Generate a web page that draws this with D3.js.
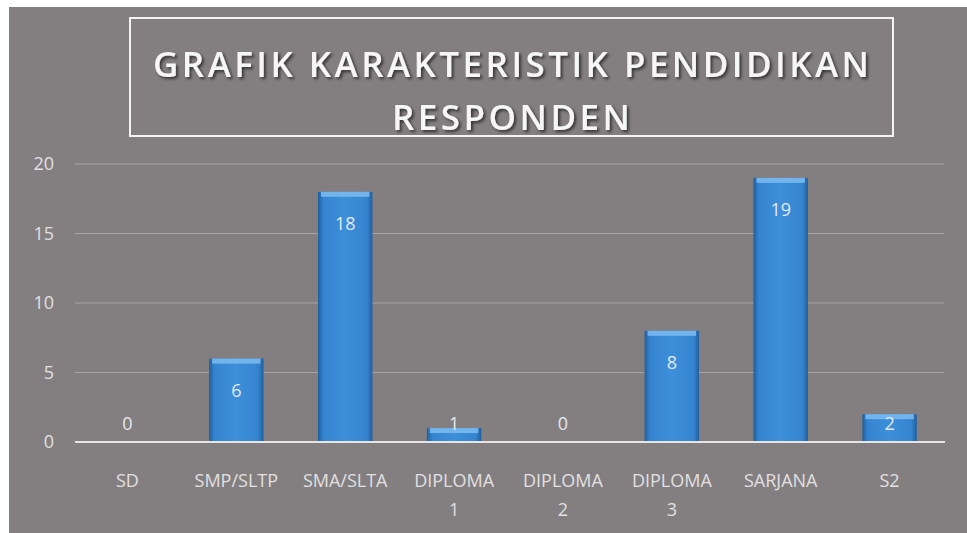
<!DOCTYPE html>
<html>
<head>
<meta charset="utf-8">
<script src="https://cdn.jsdelivr.net/npm/d3@7/dist/d3.min.js"></script>
<style>
  html, body { margin: 0; padding: 0; background: #ffffff; }
  svg { display: block; }
</style>
</head>
<body>
<svg id="chart" width="967" height="533"></svg>
<script>
const categories = [["SD"], ["SMP/SLTP"], ["SMA/SLTA"], ["DIPLOMA", "1"], ["DIPLOMA", "2"], ["DIPLOMA", "3"], ["SARJANA"], ["S2"]];
const values = [0, 6, 18, 1, 0, 8, 19, 2];
const yTicks = [0, 5, 10, 15, 20];
const titleLines = ["GRAFIK KARAKTERISTIK PENDIDIKAN", "RESPONDEN"];

const svg = d3.select("#chart");
const W = 967, H = 533;
const font = "'Open Sans', sans-serif";
const data = values.map((v, i) => ({ i, v }));

const defs = svg.append("defs");
const g1 = defs.append("linearGradient").attr("id", "barGrad").attr("x1", 0).attr("x2", 1).attr("y1", 0).attr("y2", 0);
g1.append("stop").attr("offset", "0%").attr("stop-color", "#1f5f9e");
g1.append("stop").attr("offset", "10%").attr("stop-color", "#3584d0");
g1.append("stop").attr("offset", "50%").attr("stop-color", "#3d8fda");
g1.append("stop").attr("offset", "90%").attr("stop-color", "#3584d0");
g1.append("stop").attr("offset", "100%").attr("stop-color", "#1f5f9e");
const f = defs.append("filter").attr("id", "shadow").attr("x", "-10%").attr("y", "-20%").attr("width", "130%").attr("height", "160%");
f.append("feDropShadow").attr("dx", 2).attr("dy", 2).attr("stdDeviation", 1.5).attr("flood-color", "#000").attr("flood-opacity", 0.6);

// background
svg.append("rect").attr("x", 9).attr("y", 7).attr("width", W - 9).attr("height", H - 7).attr("fill", "#837e80");

// title box
svg.append("rect").attr("x", 130).attr("y", 18).attr("width", 763).attr("height", 118)
  .attr("fill", "none").attr("stroke", "#f4f4f4").attr("stroke-width", 2);
const titleW = [716, 238];
svg.append("g").selectAll("text").data(titleLines).join("text")
  .attr("x", 511).attr("y", (d, i) => 77 + i * 53)
  .attr("text-anchor", "middle")
  .attr("font-family", "'Open Sans', sans-serif").attr("font-weight", "600")
  .attr("font-size", 35)
  .attr("textLength", (d, i) => titleW[i]).attr("lengthAdjust", "spacing")
  .attr("fill", "#f6f6f6").attr("filter", "url(#shadow)")
  .text(d => d);

const x = d3.scaleBand().domain(d3.range(categories.length)).range([73, 944]).paddingInner(0.5).paddingOuter(0.25);
const y = d3.scaleLinear().domain([0, 20]).range([442, 164]);

// gridlines
svg.append("g").selectAll("line").data(yTicks.filter(t => t > 0)).join("line")
  .attr("x1", 75).attr("x2", 944).attr("y1", d => y(d)).attr("y2", d => y(d))
  .attr("stroke", "#a8a3a4").attr("stroke-width", 1);

// y axis labels
const yAxis = d3.axisLeft(y).tickValues(yTicks).tickSize(0).tickPadding(0);
const ya = svg.append("g").attr("transform", "translate(54,0)").call(yAxis);
ya.select(".domain").remove();
ya.selectAll("text").attr("font-family", font).attr("font-size", 18).attr("fill", "#e2e0e0");

// bars
const bars = svg.append("g").selectAll("g").data(data).join("g");
bars.append("rect")
  .attr("x", d => x(d.i)).attr("width", x.bandwidth())
  .attr("y", d => y(d.v)).attr("height", d => y(0) - y(d.v))
  .attr("fill", "url(#barGrad)");
bars.filter(d => d.v > 0).append("rect")
  .attr("x", d => x(d.i) + 3).attr("width", x.bandwidth() - 6)
  .attr("y", d => y(d.v)).attr("height", d => Math.min(5, y(0) - y(d.v)))
  .attr("fill", "#7cbcf0").attr("opacity", 0.85);

// baseline
svg.append("line").attr("x1", 75).attr("x2", 945).attr("y1", y(0)).attr("y2", y(0))
  .attr("stroke", "#e6e4e4").attr("stroke-width", 2);

// value labels
svg.append("g").selectAll("text").data(data).join("text")
  .attr("x", d => x(d.i) + x.bandwidth() / 2)
  .attr("y", d => (y(0) - y(d.v) > 40 ? y(d.v) + 38 : y(0) - 12))
  .attr("text-anchor", "middle")
  .attr("font-family", font).attr("font-size", 18)
  .attr("fill", "#e4e8ee")
  .text(d => d.v);

// category labels
const xAxis = d3.axisBottom(x).tickSize(0).tickFormat(() => "");
const xa = svg.append("g").attr("transform", `translate(0,${y(0)})`).call(xAxis);
xa.select(".domain").remove();
xa.selectAll(".tick").each(function(i) {
  const t = d3.select(this).append("text")
    .attr("text-anchor", "middle")
    .attr("font-family", font).attr("font-size", 18)
    .attr("fill", "#e2e0e0");
  categories[i].forEach((line, k) => {
    t.append("tspan").attr("x", 0).attr("y", 45 + k * 29).text(line);
  });
});
</script>
</body>
</html>
